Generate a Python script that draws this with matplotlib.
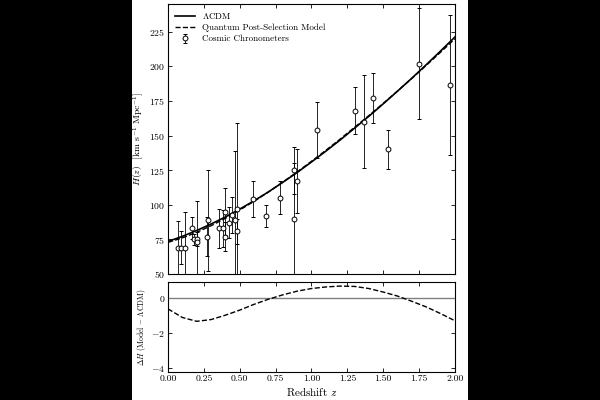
import matplotlib
matplotlib.use("Agg")
import matplotlib.pyplot as plt
from matplotlib.patches import Rectangle
import numpy as np

plt.rcParams['font.family'] = 'serif'
plt.rcParams['font.serif'] = ['cmr10', 'DejaVu Serif']
plt.rcParams['mathtext.fontset'] = 'cm'
plt.rcParams['axes.formatter.use_mathtext'] = True
plt.rcParams['axes.unicode_minus'] = True

# Model curves
z_grid = [0.0, 0.1, 0.2, 0.3, 0.4, 0.5, 0.6, 0.7, 0.8, 0.9, 1.0,
          1.1, 1.2, 1.3, 1.4, 1.5, 1.6, 1.7, 1.8, 1.9, 2.0]
H_lcdm = [73.5, 77.2, 81.4, 86.1, 91.2, 96.9, 102.9, 109.3, 116.2, 123.3, 130.9,
          138.7, 146.8, 155.3, 163.9, 172.9, 182.1, 191.5, 201.2, 211.1, 221.2]
delta_H = [-0.63, -1.12, -1.34, -1.24, -0.99, -0.70, -0.37, -0.08, 0.17, 0.38, 0.53,
           0.62, 0.67, 0.65, 0.53, 0.33, 0.10, -0.20, -0.52, -0.90, -1.31]

# Cosmic chronometer data
cc_z = [0.07, 0.09, 0.12, 0.17, 0.179, 0.199, 0.2, 0.27, 0.28, 0.352, 0.38, 0.4,
        0.4004, 0.425, 0.445, 0.47, 0.4783, 0.48, 0.593, 0.68, 0.781, 0.875,
        0.88, 0.9, 1.037, 1.3, 1.363, 1.43, 1.53, 1.75, 1.965]
cc_H = [69, 69, 68.6, 83, 75, 75, 72.9, 77, 88.8, 83, 83, 95,
        77, 87.1, 92.8, 89, 80.9, 97, 104, 92, 105, 125,
        90, 117, 154, 168, 160, 177, 140, 202, 186.5]
cc_err = [19.6, 12, 26.2, 8, 4, 5, 29.6, 14, 36.6, 14, 13.5, 17,
          10.2, 11.2, 12.9, 50, 9, 62, 13, 8, 12, 17,
          40, 23, 20, 17, 33.6, 18, 14, 40, 50.4]

H_model = [a + b for a, b in zip(H_lcdm, delta_H)]

fig = plt.figure(figsize=(6, 4), dpi=100, facecolor='black')
fig.patches.append(Rectangle((132 / 600, 0), 336 / 600, 1, transform=fig.transFigure,
                             facecolor='white', edgecolor='none', zorder=-10))

ax1 = fig.add_axes([0.28, 0.315, 0.4783, 0.675])
ax2 = fig.add_axes([0.28, 0.07, 0.4783, 0.224])

ax1.plot(z_grid, H_lcdm, color='black', lw=1.2, label=r'$\Lambda$CDM', zorder=3)
ax1.plot(z_grid, H_model, color='black', lw=1.0, ls='--',
         label='Quantum Post-Selection Model', zorder=3)
ax1.errorbar(cc_z, cc_H, yerr=cc_err, fmt='o', color='black', ecolor='black',
             elinewidth=0.6, capsize=1.5, capthick=0.6, ms=3.5, mfc='white',
             mec='black', mew=0.7, label='Cosmic Chronometers', zorder=4)

ax1.set_xlim(0, 2)
ax1.set_ylim(50, 245)
ax1.set_yticks([50, 75, 100, 125, 150, 175, 200, 225])
ax1.set_xticks([0, 0.25, 0.5, 0.75, 1.0, 1.25, 1.5, 1.75, 2.0])
ax1.tick_params(labelbottom=False)
ax1.set_ylabel(r'$H(z)$  [km s$^{-1}$ Mpc$^{-1}$]', fontsize=7, labelpad=2)
ax1.legend(loc='upper left', frameon=False, fontsize=6.5, handlelength=2.2,
           borderaxespad=0.4, labelspacing=0.3)

ax2.axhline(0, color='gray', lw=1.0)
ax2.plot(z_grid, delta_H, color='black', lw=1.0, ls='--')
ax2.set_xlim(0, 2)
ax2.set_ylim(-4.23, 0.88)
ax2.set_yticks([0, -2, -4])
ax2.set_xticks([0, 0.25, 0.5, 0.75, 1.0, 1.25, 1.5, 1.75, 2.0])
ax2.set_xticklabels(['0.00', '0.25', '0.50', '0.75', '1.00', '1.25', '1.50', '1.75', '2.00'])
ax2.set_xlabel(r'Redshift $z$', fontsize=8, labelpad=1)
ax2.set_ylabel(r'$\Delta H$ (Model $-$ $\Lambda$CDM)', fontsize=5.5, labelpad=2)

for ax in (ax1, ax2):
    ax.tick_params(direction='in', top=True, right=True, length=3, width=0.6,
                   labelsize=7, pad=2)
    for s in ax.spines.values():
        s.set_linewidth(0.8)

fig.savefig('out.png', dpi=100, facecolor=fig.get_facecolor())
